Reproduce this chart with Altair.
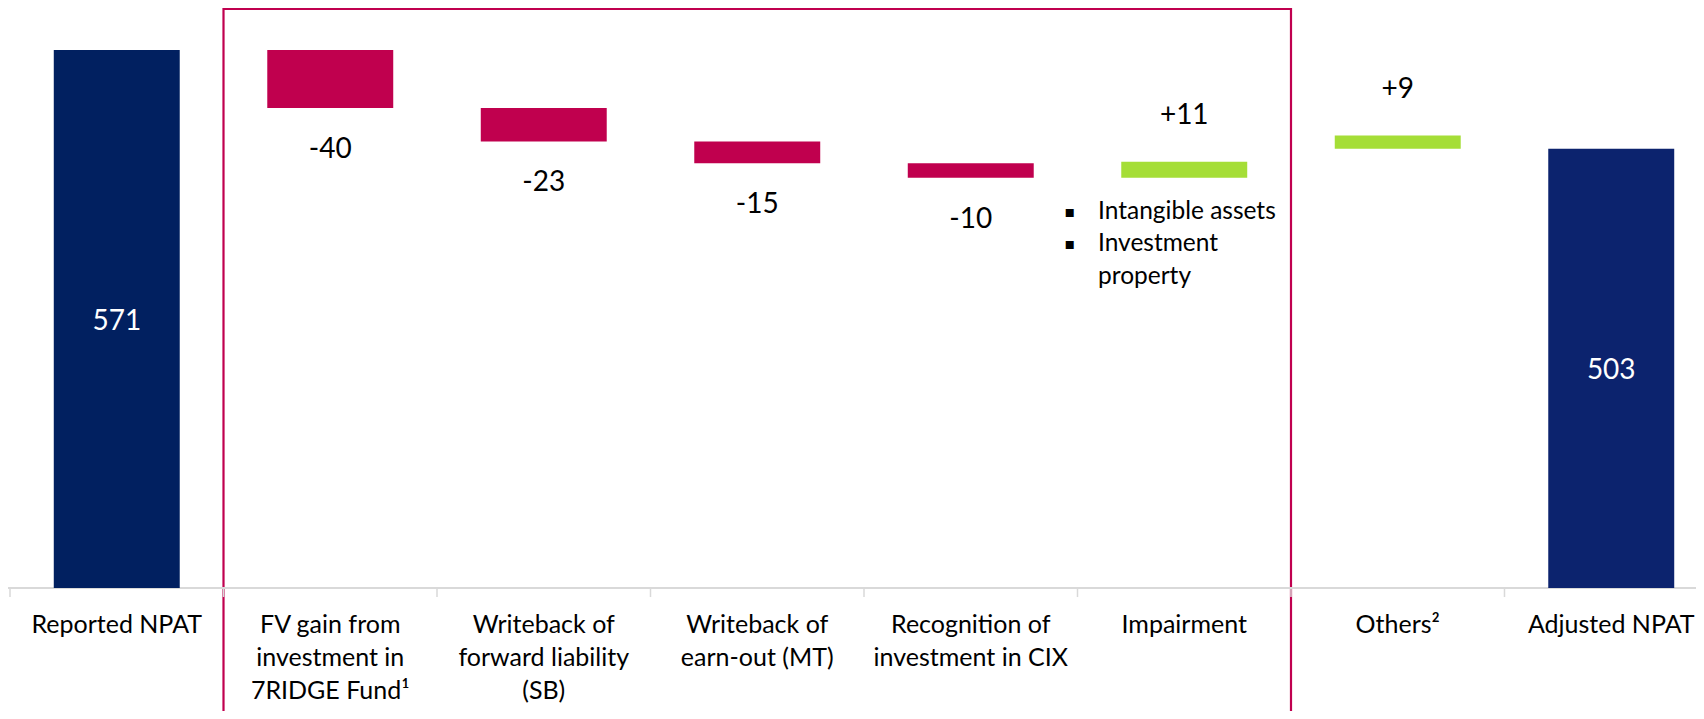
import altair as alt
import pandas as pd

# ---- data ----
categories = [
    "Reported NPAT",
    "FV gain from\ninvestment in\n7RIDGE Fund¹",
    "Writeback of\nforward liability\n(SB)",
    "Writeback of\nearn-out (MT)",
    "Recognition of\ninvestment in CIX",
    "Impairment",
    "Others²",
    "Adjusted NPAT",
]
deltas = [571, -40, -23, -15, -10, 11, 9, 503]
value_labels = ["571", "-40", "-23", "-15", "-10", "+11", "+9", "503"]
bar_low = [200, 531, 508, 493, 483, 483, 503, 200]
bar_high = [571, 571, 531, 508, 493, 494, 512, 503]
kinds = ["start", "decrease", "decrease", "decrease", "decrease", "increase", "increase", "end"]
note_text = "Intangible assets\nInvestment\nproperty"
note_bullets = "▪\n▪"

# ---- layout ----
W, H = 1688, 703
X_DOM = [-0.0094, 7.897]
Y_DOM = [115.2, 600]
BASE = 200
PX_PER_UNIT = H / (Y_DOM[1] - Y_DOM[0])
FONT = "Lato"
HALF_BAR = 0.295

xs = alt.Scale(domain=X_DOM, nice=False, zero=False)
ys = alt.Scale(domain=Y_DOM, nice=False, zero=False)


def X(f):
    return alt.X(f, type="quantitative", scale=xs, axis=None)


def X2(f):
    return alt.X2(f)


def Y(f):
    return alt.Y(f, type="quantitative", scale=ys, axis=None)


n = len(categories)
df = pd.DataFrame({
    "cat": categories,
    "idx": list(range(n)),
    "delta": deltas,
    "vlabel": value_labels,
    "low": bar_low,
    "high": bar_high,
    "kind": kinds,
})
df["xc"] = df["idx"] + 0.5
df["xlo"] = df["xc"] - HALF_BAR
df["xhi"] = df["xc"] + HALF_BAR
df["mid"] = (df["low"] + df["high"]) / 2
df["base"] = BASE

color_scale = alt.Scale(
    domain=["start", "decrease", "increase", "end"],
    range=["#012060", "#C0004E", "#A5DE37", "#0C236E"],
)

base = alt.Chart(df)

bars = base.mark_rect().encode(
    x=X("xlo"), x2=X2("xhi"), y=Y("low"), y2=alt.Y2("high"),
    color=alt.Color("kind:N", scale=color_scale, legend=None),
)

neg_labels = base.transform_filter("datum.kind == 'decrease'").mark_text(
    font=FONT, fontSize=28, color="#000000", baseline="middle", dy=42
).encode(x=X("xc"), y=Y("low"), text="vlabel:N")

pos_labels = base.transform_filter("datum.kind == 'increase'").mark_text(
    font=FONT, fontSize=28, color="#000000", baseline="middle", dy=-46
).encode(x=X("xc"), y=Y("high"), text="vlabel:N")

tot_labels = base.transform_filter("datum.kind == 'start' || datum.kind == 'end'").mark_text(
    font=FONT, fontSize=28, color="#FFFFFF", baseline="middle", dy=3
).encode(x=X("xc"), y=Y("mid"), text="vlabel:N")

cat_labels = base.mark_text(
    font=FONT, fontSize=25, color="#000000", baseline="top", align="center",
    lineBreak="\n", lineHeight=33, dy=25
).encode(x=X("xc"), y=Y("base"), text="cat:N")

# axis line and ticks between categories
axis_df = pd.DataFrame({"x0": [X_DOM[0]], "x1": [n], "y": [BASE]})
axis_line = alt.Chart(axis_df).mark_rule(color="#D9D9D9", strokeWidth=2, clip=True).encode(
    x=X("x0"), x2=X2("x1"), y=Y("y")
)
tick_df = pd.DataFrame({"x": list(range(n + 1)), "y": [BASE] * (n + 1),
                        "y2": [BASE - 9 / PX_PER_UNIT] * (n + 1)})
ticks = alt.Chart(tick_df).mark_rule(color="#D9D9D9", strokeWidth=1.5, clip=True).encode(
    x=X("x"), y=Y("y"), y2=alt.Y2("y2")
)

# highlight box around the one-off items (categories 1..5)
box_df = pd.DataFrame({"x0": [1], "x1": [6], "y0": [599.3], "y1": [Y_DOM[0] - 20]})
box = alt.Chart(box_df).mark_rect(
    fillOpacity=0, stroke="#C0004F", strokeWidth=2.2, clip=True
).encode(x=X("x0"), x2=X2("x1"), y=Y("y0"), y2=alt.Y2("y1"))

# impairment note (first line centre given)
note_df = pd.DataFrame({"xt": [5.096], "xb": [4.965], "yt": [459.4], "yb": [459.6],
                        "t": [note_text], "b": [note_bullets]})
note = alt.Chart(note_df).mark_text(
    font=FONT, fontSize=24.5, color="#000000", align="left", baseline="middle",
    lineBreak="\n", lineHeight=32.5
).encode(x=X("xt"), y=Y("yt"), text="t:N")
bullets = alt.Chart(note_df).mark_text(
    font="DejaVu Sans", fontSize=16, color="#000000", align="center", baseline="middle",
    lineBreak="\n", lineHeight=32.5
).encode(x=X("xb"), y=Y("yb"), text="b:N")

chart = alt.layer(
    box, axis_line, ticks, bars, neg_labels, pos_labels, tot_labels, cat_labels, note, bullets
).properties(
    width=W, height=H, padding=0, autosize=alt.AutoSizeParams(type="none"),
    background="#FFFFFF",
).configure_view(stroke=None)

chart.save("out.html", embed_options={"renderer": "svg", "actions": False})
